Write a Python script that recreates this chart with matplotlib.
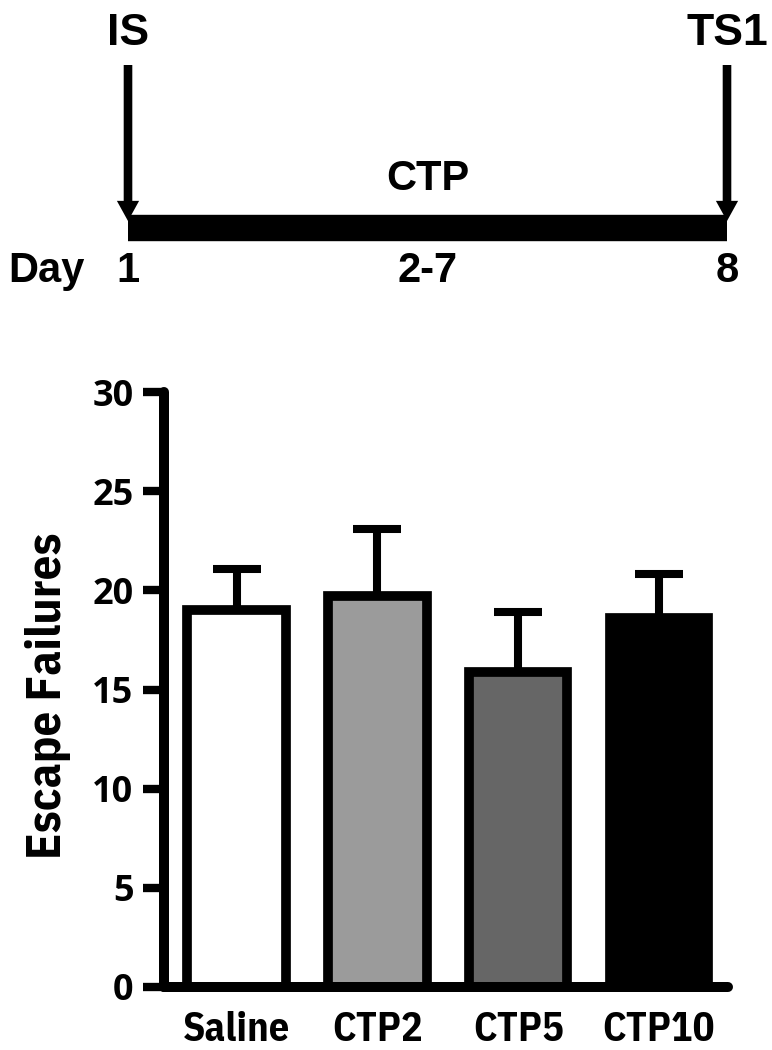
import numpy as np
import matplotlib
matplotlib.use("Agg")
import matplotlib.pyplot as plt

# bar data
groups = ["Saline", "CTP2", "CTP5", "CTP10"]
means = [19.0, 19.7, 15.9, 18.6]
sems = [2.1, 3.4, 3.0, 2.2]
fills = ["white", "#9b9b9b", "#666666", "black"]
yticks = [0, 5, 10, 15, 20, 25, 30]

# timeline schematic
events = ["IS", "TS1"]
event_days = [1, 8]
day_labels = ["1", "2-7", "8"]
day_label_pos = [1, 4.5, 8]
treatment = "CTP"
treatment_pos = 4.5

bold = ["Liberation Sans", "DejaVu Sans"]
narrow = ["IBM Plex Sans Condensed", "Liberation Sans", "DejaVu Sans"]

fig = plt.figure(figsize=(7.72, 10.5), dpi=100)

# ---- timeline (x in days, y in pixels from top) ----
axt = fig.add_axes([128/772, 1 - 300/1050, 599/772, 300/1050])
axt.set_xlim(1, 8)
axt.set_ylim(300, 0)
axt.axis("off")

axt.plot([event_days[0], event_days[-1]], [228, 228], color="k", lw=19,
         solid_capstyle="butt", clip_on=False)
for d, lab in zip(event_days, events):
    axt.annotate("", xy=(d, 221), xytext=(d, 65),
                 arrowprops=dict(arrowstyle="simple,tail_width=0.62,head_width=1.6,head_length=1.45",
                                 lw=0, fc="k", ec="k", mutation_scale=10,
                                 shrinkA=0, shrinkB=0),
                 annotation_clip=False)
    axt.text(d, 45, lab, ha="center", va="baseline", fontsize=32,
             fontweight="bold", family=bold, clip_on=False)
axt.text(treatment_pos, 190, treatment, ha="center", va="baseline", fontsize=30,
         fontweight="bold", family=bold)
for d, lab in zip(day_label_pos, day_labels):
    axt.text(d, 282, lab, ha="center", va="baseline", fontsize=30,
             fontweight="bold", family=bold, clip_on=False)
axt.text(0.05, 282, "Day", ha="center", va="baseline", fontsize=30,
         fontweight="bold", family=bold, clip_on=False)

# ---- bar chart ----
ax = fig.add_axes([164/772, 1 - 987/1050, 564/772, 595/1050])
x = np.arange(len(groups))
ax.bar(x, means, width=0.7, color=fills, edgecolor="black", linewidth=7,
       zorder=2)
ax.errorbar(x, means, yerr=[np.zeros(len(sems)), sems], fmt="none",
            ecolor="black", elinewidth=5.8, capsize=17.5, capthick=5.8, zorder=1)

ax.set_xlim(-0.515, 3.49)
ax.set_ylim(0, 30)
ax.set_yticks(yticks)
ax.set_xticks(x)
ax.set_xticklabels(groups, family=narrow, fontweight="bold", fontsize=29)
for lab in ax.get_yticklabels():
    lab.set_family(["Open Sans", "DejaVu Sans"])
    lab.set_fontweight("bold")
    lab.set_fontsize(26)

for s in ["top", "right"]:
    ax.spines[s].set_visible(False)
for s in ["left", "bottom"]:
    ax.spines[s].set_linewidth(7.2)
    ax.spines[s].set_capstyle("round")
ax.tick_params(axis="y", length=15, width=6, pad=7)
ax.tick_params(axis="x", length=0, pad=17)

ax.set_ylabel("Escape Failures", fontsize=35, fontweight="bold", family=narrow)
ax.yaxis.set_label_coords(-0.165, 0.49)

fig.savefig("out.png", dpi=100)
